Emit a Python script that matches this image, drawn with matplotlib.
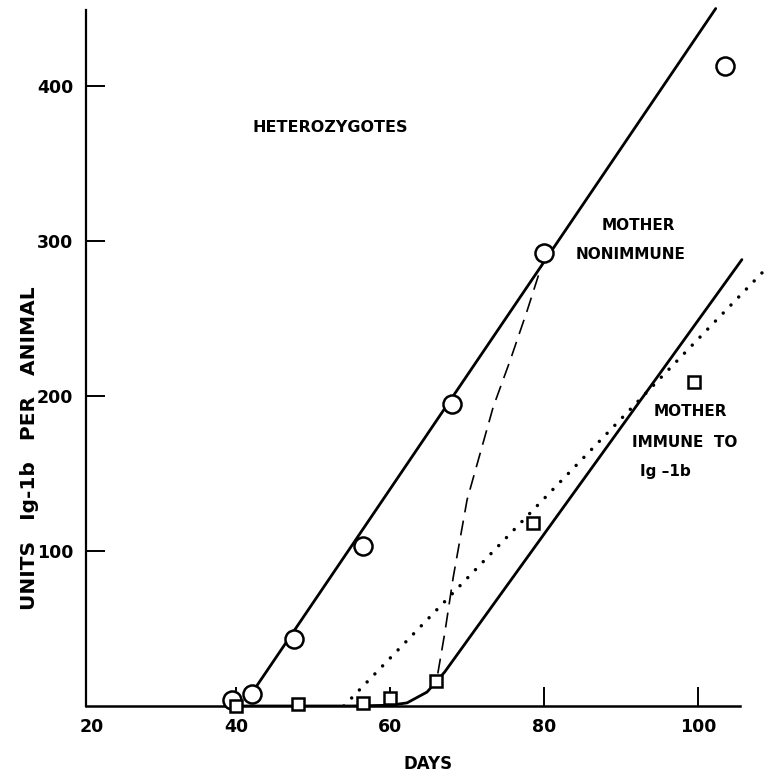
import matplotlib
matplotlib.use('Agg')
import matplotlib.pyplot as plt

# heterozygotes, mother nonimmune (circles)
het_days = [39.5, 42, 47.5, 56.5, 68, 80, 103.5]
het_units = [4, 8, 43, 103, 195, 292, 413]

# heterozygotes, mother immune to Ig-1b (squares)
imm_days = [40, 48, 56.5, 60, 66, 78.5, 99.5]
imm_units = [0, 1, 2, 5, 16, 118, 209]

# fitted line through circles
het_fit_x = [42, 102.3]
het_fit_y = [8, 450]

# solid line for the immune group
imm_fit_x = [40, 55, 60, 62.2, 64.8, 67.1, 105.7]
imm_fit_y = [0, 0, 0.5, 2, 9, 22, 288]

# dotted line
dot_x = [54, 109]
dot_y = [0, 283]

# dashed curve from square at 66 up to circle at 80
dash_x = [66.2, 67.1, 68.2, 70.0, 71.7, 73.4, 75.6, 77.8, 79.8]
dash_y = [21, 47, 83, 133, 163, 193, 223, 255, 286]

x_ticks = [21.3, 40, 60, 80, 100]
x_labels = ['20', '40', '60', '80', '100']
y_ticks = [100, 200, 300, 400]
y_labels = ['100', '200', '300', '400']

plt.rcParams['font.family'] = ['DejaVu Sans']
plt.rcParams['font.weight'] = 'bold'

fig = plt.figure(figsize=(7.7, 7.75), dpi=100)
ax = fig.add_axes([86 / 770, 69 / 775, 684 / 770, 706 / 775])
ax.set_xlim(20.5, 109.35)
ax.set_ylim(0, 455.5)

ax.plot(het_fit_x, het_fit_y, color='black', lw=2.0, solid_capstyle='round', zorder=2)
ax.plot(imm_fit_x, imm_fit_y, color='black', lw=2.0, solid_capstyle='round', zorder=2)
ax.plot(dot_x, dot_y, color='black', lw=2.5, linestyle=(0, (0.01, 3.2)),
        dash_capstyle='round', zorder=2)
ax.plot(dash_x, dash_y, color='black', lw=1.2, linestyle=(0, (9, 5)), zorder=2)

ax.plot(het_days, het_units, 'o', ms=13, mfc='white', mec='black', mew=1.8, zorder=3,
        clip_on=False)
ax.plot(imm_days, imm_units, 's', ms=9, mfc='white', mec='black', mew=1.8, zorder=4,
        clip_on=False)

for side in ['top', 'right']:
    ax.spines[side].set_visible(False)
ax.spines['left'].set_linewidth(1.6)
ax.spines['bottom'].set_linewidth(1.8)
ax.spines['left'].set_bounds(0, 449)
ax.spines['bottom'].set_bounds(20.5, 105.5)

ax.set_xticks(x_ticks)
ax.set_xticklabels(x_labels)
ax.set_yticks(y_ticks)
ax.set_yticklabels(y_labels)
ax.tick_params(axis='both', direction='in', length=14, width=1.4, pad=9,
               labelsize=12.5)
# the "20" sits at the corner, without a tick mark
ax.xaxis.get_major_ticks()[0].tick1line.set_visible(False)

ax.set_xlabel('DAYS', fontsize=12, fontweight='bold', labelpad=13)
ax.set_ylabel('UNITS   Ig-1b   PER   ANIMAL', fontsize=14.5, fontweight='bold')
ax.yaxis.set_label_coords(-0.068, 0.365)

ax.text(42.1, 373, 'HETEROZYGOTES', fontsize=11.5, fontweight='bold', ha='left',
        va='center')
ax.text(92.2, 310, 'MOTHER', fontsize=11, fontweight='bold', ha='center', va='center')
ax.text(91.2, 291, 'NONIMMUNE', fontsize=11, fontweight='bold', ha='center', va='center')
ax.text(99.0, 190, 'MOTHER', fontsize=11, fontweight='bold', ha='center', va='center')
ax.text(98.3, 170, 'IMMUNE  TO', fontsize=11, fontweight='bold', ha='center', va='center')
ax.text(95.8, 151, 'Ig \u20131b', fontsize=11, fontweight='bold', ha='center', va='center')

fig.savefig('out.png', dpi=100)
